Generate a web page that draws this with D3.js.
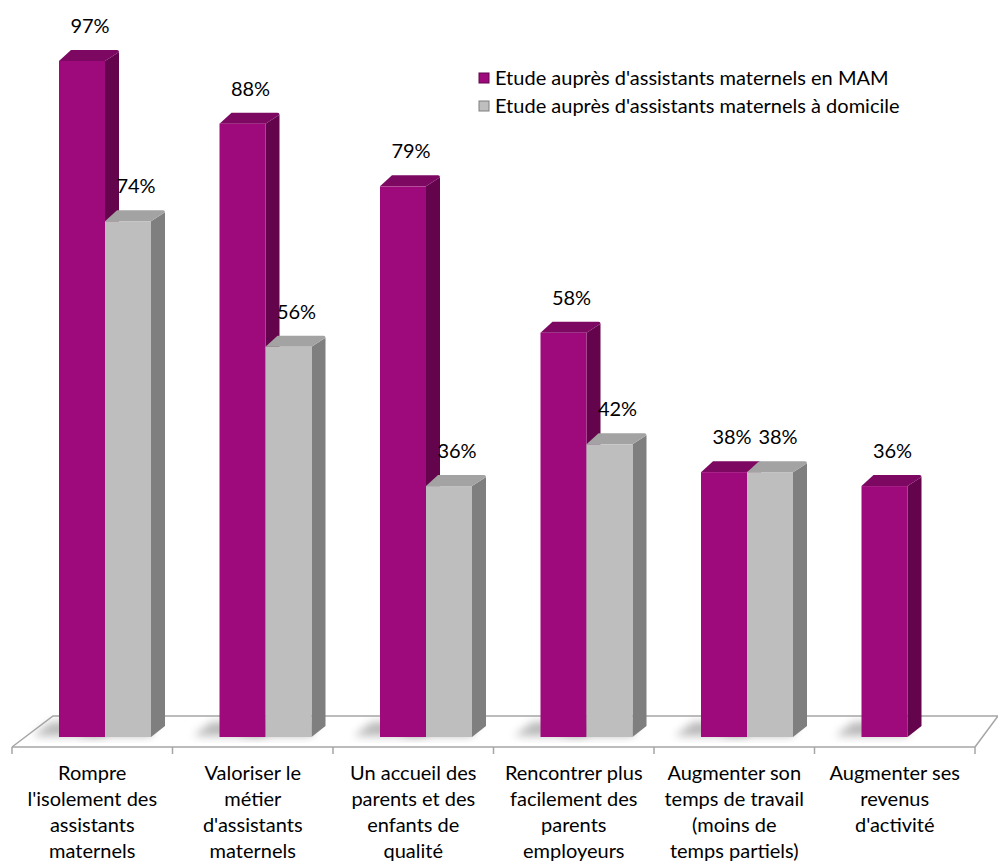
<!DOCTYPE html>
<html>
<head>
<meta charset="utf-8">
<script src="https://cdn.jsdelivr.net/npm/d3@7"></script>
<style>
  body { margin: 0; background: #fff; }
  svg { display: block; font-family: Lato, "Open Sans", sans-serif; }
</style>
</head>
<body>
<div id="chart"></div>
<script>

// data
var categories = [
  ["Rompre", "l'isolement des", "assistants", "maternels"],
  ["Valoriser le", "métier", "d'assistants", "maternels"],
  ["Un accueil des", "parents et des", "enfants de", "qualité"],
  ["Rencontrer plus", "facilement des", "parents", "employeurs"],
  ["Augmenter son", "temps de travail", "(moins de", "temps partiels)"],
  ["Augmenter ses", "revenus", "d'activité"]
];
var seriesNames = ["Etude auprès d'assistants maternels en MAM",
                   "Etude auprès d'assistants maternels à domicile"];
var mamValues = [97, 88, 79, 58, 38, 36];
var domicileValues = [74, 56, 36, 42, 38, null];

var colors = [
  {front: "#9e0a7b", side: "#63044c", top: "#7c0862"},
  {front: "#bebebe", side: "#7f7f7f", top: "#a3a3a3"}
];

var width = 998, height = 861;

var svg = d3.select("#chart").append("svg")
    .attr("width", width)
    .attr("height", height);

var defs = svg.append("defs");
defs.append("filter").attr("id", "blur")
    .attr("x", "-50%").attr("y", "-50%").attr("width", "200%").attr("height", "200%")
  .append("feGaussianBlur").attr("stdDeviation", 4);

// scales
var x = d3.scaleBand()
    .domain(d3.range(categories.length))
    .range([12, 975])
    .padding(0);

var sub = d3.scaleBand()
    .domain([0, 1])
    .range([47, 139]);

var y = d3.scaleLinear()
    .domain([0, 100])
    .range([737, 40]);

var depthX = 14, depthY = -11;
var floorFront = 747, floorBack = 716, floorSkew = 41;

// floor
var floor = svg.append("g");
floor.append("path")
    .attr("d", "M" + x.range()[0] + "," + floorFront +
               "L" + (x.range()[0] + floorSkew) + "," + floorBack +
               "L" + (x.range()[1] + 23) + "," + floorBack +
               "L" + x.range()[1] + "," + floorFront)
    .attr("fill", "#fff")
    .attr("stroke", "#a6a6a6")
    .attr("stroke-width", 1.5);

// axis line and ticks along the front edge of the floor
floor.append("line")
    .attr("x1", x.range()[0]).attr("x2", x.range()[1])
    .attr("y1", floorFront).attr("y2", floorFront)
    .attr("stroke", "#a6a6a6").attr("stroke-width", 1.5);

floor.selectAll(".tick")
    .data(d3.range(categories.length + 1))
    .enter().append("line")
    .attr("x1", function(d) { return x.range()[0] + d * x.bandwidth(); })
    .attr("x2", function(d) { return x.range()[0] + d * x.bandwidth(); })
    .attr("y1", floorFront).attr("y2", floorFront + 7)
    .attr("stroke", "#a6a6a6").attr("stroke-width", 1.5);

// build bar rows
var bars = [];
categories.forEach(function(c, i) {
  [mamValues[i], domicileValues[i]].forEach(function(v, s) {
    if (v === null) return;
    bars.push({cat: i, series: s, value: v});
  });
});

// shadows on the floor behind each bar
svg.append("g").selectAll("path")
    .data(bars)
  .enter().append("path")
    .attr("d", function(d) {
      var x0 = x(d.cat) + sub(d.series), x1 = x0 + sub.bandwidth();
      return "M" + (x0 - 26) + "," + (y(0) - 1) +
             "L" + (x0 - 8) + "," + (floorBack + 6) +
             "L" + (x1 + 4) + "," + (floorBack + 6) +
             "L" + x1 + "," + (y(0) - 1) + "Z";
    })
    .attr("fill", "#8a8a8a")
    .attr("opacity", 0.6)
    .attr("filter", "url(#blur)");

// 3D bars
var bar = svg.append("g").selectAll(".bar")
    .data(bars)
  .enter().append("g")
    .attr("class", "bar");

// side face
bar.append("path")
    .attr("d", function(d) {
      var x1 = x(d.cat) + sub(d.series) + sub.bandwidth();
      var yt = y(d.value), yb = y(0);
      return "M" + x1 + "," + yb + "L" + (x1 + depthX) + "," + (yb + depthY) +
             "L" + (x1 + depthX) + "," + (yt + depthY + 2) +
             "L" + x1 + "," + yt + "Z";
    })
    .style("fill", function(d) { return colors[d.series].side; });

// top face
bar.append("path")
    .attr("d", function(d) {
      var x0 = x(d.cat) + sub(d.series), x1 = x0 + sub.bandwidth();
      var yt = y(d.value);
      return "M" + x0 + "," + yt +
             "L" + (x0 + depthX - 2) + "," + (yt + depthY) +
             "L" + (x1 + depthX - 2) + "," + (yt + depthY) +
             "Q" + (x1 + depthX) + "," + (yt + depthY) + " " + (x1 + depthX) + "," + (yt + depthY + 2) +
             "L" + x1 + "," + yt + "Z";
    })
    .style("fill", function(d) { return colors[d.series].top; });

// front face
bar.append("rect")
    .attr("x", function(d) { return x(d.cat) + sub(d.series); })
    .attr("y", function(d) { return y(d.value); })
    .attr("width", sub.bandwidth())
    .attr("height", function(d) { return y(0) - y(d.value); })
    .style("fill", function(d) { return colors[d.series].front; });

// value labels
svg.append("g").selectAll("text")
    .data(bars)
  .enter().append("text")
    .attr("x", function(d) { return x(d.cat) + sub(d.series) + sub.bandwidth() / 2 + 8; })
    .attr("y", function(d) { return y(d.value) - 35; })
    .attr("dy", "0.35em")
    .attr("text-anchor", "middle")
    .style("font-size", "20px")
    .style("fill", "#000")
    .text(function(d) { return d.value + "%"; });

// category labels
var catLabel = svg.append("g").selectAll("text")
    .data(categories)
  .enter().append("text")
    .attr("text-anchor", "middle")
    .style("font-size", "20px")
    .style("fill", "#000");

catLabel.selectAll("tspan")
    .data(function(d, i) { return d.map(function(t) { return {t: t, i: i}; }); })
  .enter().append("tspan")
    .attr("x", function(d) { return x(d.i) + x.bandwidth() / 2; })
    .attr("y", function(d, j) { return 780 + j * 26; })
    .text(function(d) { return d.t; });

// legend
var legend = svg.append("g").selectAll(".legend")
    .data(seriesNames)
  .enter().append("g")
    .attr("class", "legend")
    .attr("transform", function(d, i) { return "translate(479," + (78 + i * 28) + ")"; });

legend.append("rect")
    .attr("x", 0).attr("y", -5)
    .attr("width", 10).attr("height", 10)
    .style("fill", function(d, i) { return colors[i].front; })
    .style("stroke", function(d, i) { return colors[i].side; })
    .style("stroke-width", 1);

legend.append("text")
    .attr("x", 16)
    .attr("dy", "0.35em")
    .style("font-size", "20px")
    .style("fill", "#000")
    .text(function(d) { return d; });

</script>
</body>
</html>
